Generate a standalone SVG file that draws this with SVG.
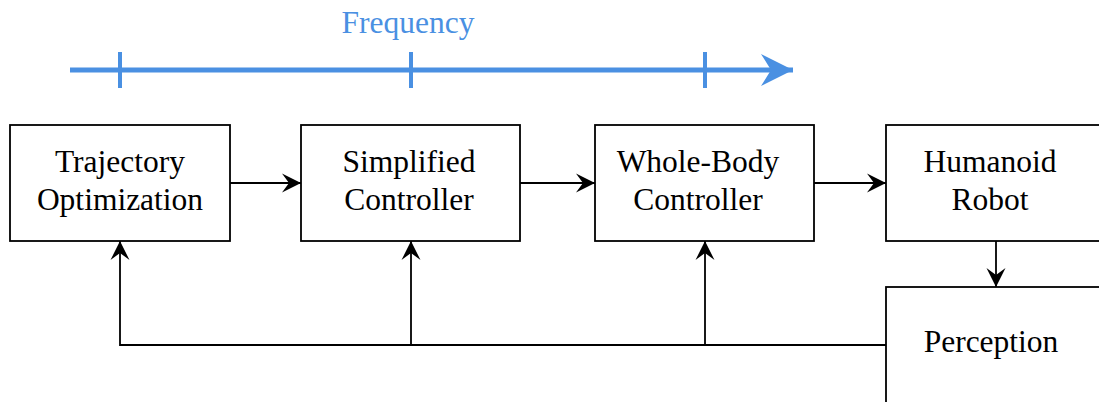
<svg xmlns="http://www.w3.org/2000/svg" width="1099" height="402" viewBox="0 0 1099 402">
  <style>
    .box { fill: #ffffff; stroke: #000000; stroke-width: 1.8; }
    .lbl { font-family: 'Liberation Serif', 'Times New Roman', serif; font-size: 31.5px; fill: #000000; text-anchor: middle; }
    .wire { fill: none; stroke: #000000; stroke-width: 1.8; }
    .freq { fill: none; stroke: #4a90e2; stroke-width: 5; }
    .tick { fill: none; stroke: #4a90e2; stroke-width: 4; }
    .freqlbl { font-family: 'Liberation Serif', 'Times New Roman', serif; font-size: 31.5px; fill: #4a90e2; text-anchor: middle; }
  </style>
  <defs>
    <marker id="stealth" markerUnits="userSpaceOnUse" markerWidth="24" markerHeight="24" viewBox="-20 -12 24 24" refX="0" refY="0" orient="auto">
      <path d="M0,0 L-19,-9.5 L-12,0 L-19,9.5 Z" fill="#000000"/>
    </marker>
    <marker id="stealthBlue" markerUnits="userSpaceOnUse" markerWidth="40" markerHeight="40" viewBox="-34 -20 40 40" refX="0" refY="0" orient="auto">
      <path d="M0,0 L-32,-16 L-22,0 L-32,16 Z" fill="#4a90e2"/>
    </marker>
  </defs>

  <!-- frequency axis -->
  <g id="frequency-axis">
    <text class="freqlbl" x="408" y="33">Frequency</text>
    <line class="freq" x1="70" y1="70" x2="793" y2="70" marker-end="url(#stealthBlue)"/>
    <line class="tick" x1="120" y1="52" x2="120" y2="88"/>
    <line class="tick" x1="411" y1="52" x2="411" y2="88"/>
    <line class="tick" x1="705" y1="52" x2="705" y2="88"/>
  </g>

  <!-- connectors -->
  <g id="connectors">
    <line class="wire" x1="230" y1="183" x2="301" y2="183" marker-end="url(#stealth)"/>
    <line class="wire" x1="520" y1="183" x2="595" y2="183" marker-end="url(#stealth)"/>
    <line class="wire" x1="814" y1="183" x2="886" y2="183" marker-end="url(#stealth)"/>
    <line class="wire" x1="996" y1="241" x2="996" y2="287" marker-end="url(#stealth)"/>
    <path class="wire" d="M886,345 L120,345 L120,241" marker-end="url(#stealth)"/>
    <line class="wire" x1="411" y1="345" x2="411" y2="241" marker-end="url(#stealth)"/>
    <line class="wire" x1="705" y1="345" x2="705" y2="241" marker-end="url(#stealth)"/>
  </g>

  <g id="trajectory-optimization">
    <rect class="box" x="10" y="125" width="220" height="116"/>
    <text class="lbl" x="120" y="172">Trajectory</text>
    <text class="lbl" x="120" y="210">Optimization</text>
  </g>

  <g id="simplified-controller">
    <rect class="box" x="301" y="125" width="219" height="116"/>
    <text class="lbl" x="409" y="172">Simplified</text>
    <text class="lbl" x="409" y="210">Controller</text>
  </g>

  <g id="whole-body-controller">
    <rect class="box" x="595" y="125" width="219" height="116"/>
    <text class="lbl" x="698" y="172">Whole-Body</text>
    <text class="lbl" x="698" y="210">Controller</text>
  </g>

  <g id="humanoid-robot">
    <rect class="box" x="886" y="125" width="220" height="116"/>
    <text class="lbl" x="990" y="172">Humanoid</text>
    <text class="lbl" x="990" y="210">Robot</text>
  </g>

  <g id="perception">
    <rect class="box" x="886" y="287" width="220" height="130"/>
    <text class="lbl" x="991" y="352">Perception</text>
  </g>
</svg>
